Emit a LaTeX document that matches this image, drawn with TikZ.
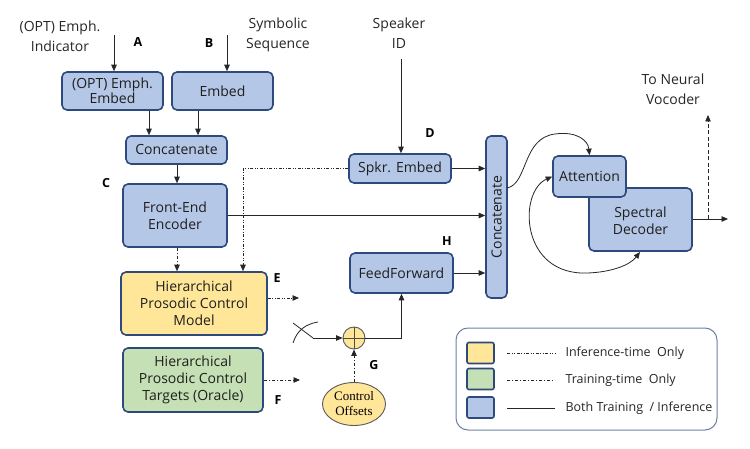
\documentclass[tikz,border=0pt]{standalone}
\usepackage{fontspec}
\setmainfont{Open Sans}
\newfontfamily\serifoff{Liberation Serif}
\usetikzlibrary{arrows.meta,shapes.geometric}
\definecolor{bfill}{HTML}{B4C7E7}
\definecolor{bdraw}{HTML}{2E4A7D}
\definecolor{yfill}{HTML}{FFE699}
\definecolor{gfill}{HTML}{C5E0B4}
\definecolor{lnc}{HTML}{262626}
\tikzset{
  box/.style={draw=bdraw, line width=1.6pt, rounded corners=5pt, fill=bfill, align=center, inner sep=0pt, font=\fontsize{14}{17}\selectfont, text=black!88},
  ybox/.style={box, fill=yfill},
  gbox/.style={box, fill=gfill},
  arr/.style={draw=lnc, line width=0.8pt, -{Triangle[length=6.5pt,width=5.5pt]}},
  dd/.style={dash pattern=on 3pt off 2pt on 1pt off 2pt},
  ddd/.style={dash pattern=on 3pt off 1.5pt on 1pt off 1.5pt on 1pt off 1.5pt},
  lbl/.style={font=\bfseries\fontsize{12.5}{14}\selectfont},
  txt/.style={align=center, font=\fontsize{14}{20}\selectfont, text=black!85},
  leg/.style={font=\fontsize{12.5}{14}\selectfont, text=black!85, anchor=west},
  legsq/.style={draw=bdraw, line width=1.6pt, rounded corners=2pt, minimum width=27pt, minimum height=21pt, inner sep=0pt},
}
\begin{document}
\begin{tikzpicture}[x=1pt,y=-1pt]
\useasboundingbox (0,0) rectangle (750,449);
% input texts
\node[txt] (tA) at (60,36) {(OPT) Emph.\\Indicator};
\node[txt] (tB) at (278,35) {Symbolic\\Sequence};
\node[txt] (tS) at (399,33) {Speaker\\ID};
\node[txt] (tV) at (673,89) {To Neural\\Vocoder};
% boxes
\node[box, minimum width=101pt, minimum height=38pt] (emb1) at (112.5,91) {(OPT) Emph.\\[-2pt]Embed};
\node[box, minimum width=101pt, minimum height=38pt] (emb2) at (222.5,91) {Embed};
\node[box, minimum width=101pt, minimum height=28pt] (cat1) at (176.5,150) {Concatenate};
\node[box, minimum width=104pt, minimum height=63pt] (fe) at (175,215.5) {Front-End\\Encoder};
\node[ybox, minimum width=146pt, minimum height=63pt] (hpm) at (194,303.5) {Hierarchical\\Prosodic Control\\Model};
\node[gbox, minimum width=140pt, minimum height=64pt] (hpt) at (193,380) {Hierarchical\\Prosodic Control\\Targets (Oracle)};
\node[box, minimum width=102pt, minimum height=29pt] (spk) at (400,168.5) {Spkr. Embed};
\node[box, minimum width=103pt, minimum height=40pt] (ff) at (401.5,273) {FeedForward};
\node[box, minimum width=21pt, minimum height=162pt] (cat2) at (496.5,217) {};
\node[font=\fontsize{14}{17}\selectfont, text=black!88, rotate=90] (cat2t) at (cat2.center) {Concatenate};
\node[box, minimum width=103pt, minimum height=63pt] (dec) at (640.5,219.5) {\\[-4pt]Spectral\\Decoder};
\node[box, minimum width=73pt, minimum height=41pt] (att) at (589.5,176.5) {Attention};
\node[circle, draw=gray!70!black, line width=0.9pt, fill=yfill, minimum size=22pt, inner sep=0pt] (sum) at (354,338) {};
\draw[gray!60!black, line width=0.9pt] (sum.north) -- (sum.south) (sum.west) -- (sum.east);
\node[ellipse, draw=gray!70!black, line width=0.9pt, fill=yfill, minimum width=63pt, minimum height=43pt, inner sep=0pt, align=center, font=\serifoff\fontsize{13}{15}\selectfont] (offs) at (354,404) {Control\\Offsets};
% letters
\node[lbl] (lA) at (138,42) {A};
\node[lbl] (lB) at (209,43) {B};
\node[lbl] (lC) at (106,183) {C};
\node[lbl] (lD) at (430,133) {D};
\node[lbl] (lE) at (277,278) {E};
\node[lbl] (lF) at (278,400) {F};
\node[lbl] (lG) at (374,365) {G};
\node[lbl] (lH) at (447,241) {H};
% connectors
\coordinate (inA) at (114,35);
\coordinate (inB) at (227,35);
\coordinate (inS) at (401,59);
\draw[arr] (inA) -- (inA |- emb1.north);
\draw[arr] (inB) -- (inB |- emb2.north);
\draw[arr] (inS) -- (inS |- spk.north);
\draw[arr] (emb1.south -| 149,0) -- (cat1.north -| 149,0);
\draw[arr] (emb2.south -| 198,0) -- (cat1.north -| 198,0);
\draw[arr] (cat1.south -| 177,0) -- (fe.north -| 177,0);
\draw[arr,dd] (fe.south -| 177,0) -- (hpm.north -| 177,0);
\draw[arr,ddd] (spk.west) -| (hpm.north -| 243,0);
\draw[arr] (spk.east) -- (spk.east -| cat2.west);
\draw[arr] (fe.east) -- (fe.east -| cat2.west);
\draw[arr] (ff.east) -- (ff.east -| cat2.west);
\coordinate (eE) at (299,298);
\coordinate (eF) at (300,380);
\draw[arr,ddd] (hpm.east |- eE) -- (eE);
\draw[arr,dd] (hpt.east |- eF) -- (eF);
\coordinate (sw1) at (293,323);
\coordinate (sw2) at (313,338);
\draw[lnc, line width=0.8pt] (sw1) -- (sw2);
\draw[arr] (sw2) -- (sum.west);
\coordinate (arcS) at (293,343);
\draw[lnc, line width=0.8pt] (arcS) .. controls (297,330) and (306,324) .. (318,322);
\draw[arr] (sum.east) -| (ff.south);
\draw[arr,dd] (offs.north) -- (sum.south);
% attention curves
\coordinate (c2o) at (507,188);
\draw[arr] (c2o) .. controls (528,184) and (522,138) .. (555,134) .. controls (576,131) and (588,140) .. (att.north);
\coordinate (decb) at (640,252);
\draw[draw=lnc, line width=0.8pt, {Triangle[length=6.5pt,width=5.5pt]}-{Triangle[length=6.5pt,width=5.5pt]}] (att.west) .. controls (518,192) and (520,276) .. (588,273) .. controls (612,272) and (630,265) .. (decb);
% output
\coordinate (outE) at (728,219);
\coordinate (vocB) at (708,219);
\coordinate (vocT) at (708,115);
\draw[arr] (dec.east |- outE) -- (outE);
\draw[arr, dashed, dash pattern=on 4pt off 2.5pt] (vocB) -- (vocT);
% legend
\draw[draw=bdraw!70, line width=1pt, rounded corners=12pt] (456,328) rectangle (717,430);
\node[legsq, fill=yfill] (sq1) at (480.5,353) {};
\node[legsq, fill=gfill] (sq2) at (480.5,379) {};
\node[legsq, fill=bfill] (sq3) at (480.5,407.5) {};
\coordinate (l1a) at (507,353); \coordinate (l1b) at (555,353);
\coordinate (l2a) at (507,380); \coordinate (l2b) at (555,380);
\coordinate (l3a) at (507,408); \coordinate (l3b) at (555,408);
\draw[lnc, line width=0.6pt, ddd] (l1a) -- (l1b);
\draw[lnc, line width=0.6pt, dd] (l2a) -- (l2b);
\draw[lnc, line width=0.6pt] (l3a) -- (l3b);
\node[leg] (t1) at (562,353) {Inference-time\ \ Only};
\node[leg] (t2) at (562,380) {Training-time\ \ Only};
\node[leg] (t3) at (562,408) {Both Training\ \ / Inference};
\end{tikzpicture}
\end{document}
